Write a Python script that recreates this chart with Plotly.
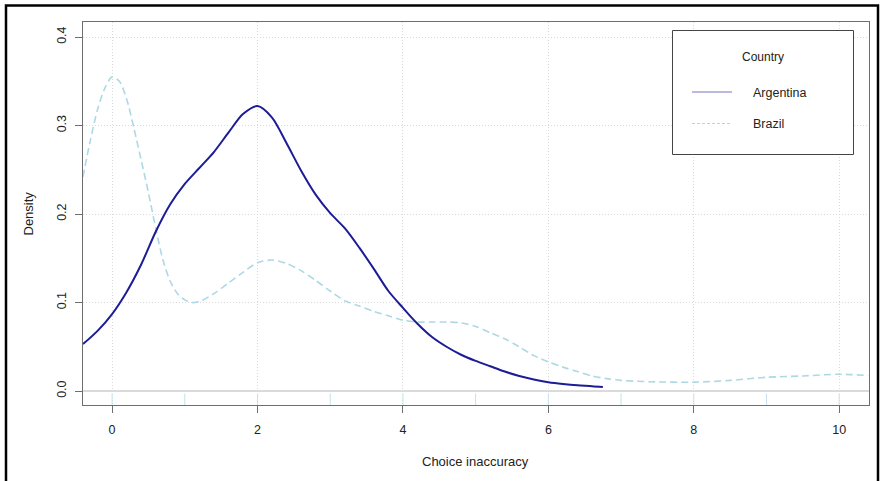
import plotly.graph_objects as go

# ---- data ----
arg_x = [-0.4, -0.2, 0.0, 0.2, 0.4, 0.6, 0.8, 1.0, 1.2, 1.4, 1.6, 1.8, 2.0, 2.2, 2.4, 2.6,
         2.8, 3.0, 3.2, 3.4, 3.6, 3.8, 4.0, 4.2, 4.4, 4.6, 4.8, 5.0, 5.2, 5.4, 5.6, 5.8,
         6.0, 6.2, 6.4, 6.6, 6.75]
arg_y = [0.053, 0.068, 0.087, 0.112, 0.143, 0.180, 0.211, 0.234, 0.252, 0.270, 0.292, 0.313,
         0.322, 0.309, 0.280, 0.249, 0.222, 0.201, 0.184, 0.162, 0.138, 0.113, 0.094, 0.076,
         0.061, 0.050, 0.041, 0.034, 0.028, 0.022, 0.017, 0.013, 0.010, 0.008, 0.0065,
         0.0055, 0.0045]

bra_x = [-0.4, -0.3, -0.2, -0.1, 0.0, 0.1, 0.2, 0.3, 0.4, 0.5, 0.6, 0.7, 0.8, 0.9, 1.0,
         1.1, 1.2, 1.4, 1.6, 1.8, 2.0, 2.2, 2.4, 2.6, 2.8, 3.0, 3.2, 3.4, 3.6, 3.8, 4.0,
         4.2, 4.4, 4.6, 4.8, 5.0, 5.2, 5.4, 5.6, 5.8, 6.0, 6.2, 6.4, 6.6, 6.8, 7.0, 7.4,
         8.0, 8.5, 9.0, 9.5, 10.0, 10.4]
bra_y = [0.242, 0.283, 0.318, 0.342, 0.355, 0.350, 0.330, 0.297, 0.261, 0.224, 0.184,
         0.148, 0.124, 0.110, 0.103, 0.100, 0.101, 0.110, 0.122, 0.134, 0.145, 0.148,
         0.144, 0.136, 0.125, 0.113, 0.102, 0.096, 0.090, 0.085, 0.080, 0.078, 0.078,
         0.078, 0.077, 0.073, 0.066, 0.059, 0.050, 0.040, 0.033, 0.027, 0.022, 0.017,
         0.014, 0.012, 0.0105, 0.010, 0.012, 0.0155, 0.017, 0.019, 0.0175]

rug_x = [0, 1, 2, 3, 4, 5, 6, 7, 8, 9, 10]

x_ticks = [0, 2, 4, 6, 8, 10]
y_ticks = [0.0, 0.1, 0.2, 0.3, 0.4]

series_names = ["Argentina", "Brazil"]
legend_title = "Country"
x_title = "Choice inaccuracy"
y_title = "Density"

# ---- layout constants ----
W, H = 882, 481
L, R, T, B = 83, 13, 22, 76
pw, ph = W - L - R, H - T - B
x_range = [-0.4, 10.41]
y_range = [-0.0158, 0.417]

ARG_COL = "#1c1c96"
BRA_COL = "#add8e6"
RUG_COL = "#c4e2ec"
GRID_COL = "#dadada"
FONT = "Liberation Sans, Arial, sans-serif"


def px_x(p):
    return (p - L) / pw


def px_y(p):
    return (H - B - p) / ph


fig = go.Figure()

# rug
rug_h = 0.03 * (y_range[1] - y_range[0])
rx, ry = [], []
for v in rug_x:
    rx += [v, v, None]
    ry += [y_range[0], y_range[0] + rug_h, None]
fig.add_trace(go.Scatter(x=rx, y=ry, mode="lines", line=dict(color=RUG_COL, width=1),
                         hoverinfo="skip", showlegend=False))

fig.add_trace(go.Scatter(x=bra_x, y=bra_y, mode="lines", name=series_names[1],
                         line=dict(color=BRA_COL, width=1.6, dash="7px,4px",
                                   shape="spline", smoothing=0.8),
                         showlegend=False))
fig.add_trace(go.Scatter(x=arg_x, y=arg_y, mode="lines", name=series_names[0],
                         line=dict(color=ARG_COL, width=2, shape="spline", smoothing=0.8),
                         showlegend=False))

axis_common = dict(
    showline=True, mirror=True, linecolor="#6e6e6e", linewidth=1,
    ticks="outside", ticklen=7, tickcolor="#6e6e6e", tickwidth=1,
    showgrid=True, gridcolor=GRID_COL, griddash="1px,2px", gridwidth=1,
    tickfont=dict(family=FONT, size=12.5, color="#222222"),
)

fig.update_xaxes(range=x_range, tickvals=x_ticks, ticktext=[str(v) for v in x_ticks],
                 zeroline=False, ticklabelstandoff=6, **axis_common)
fig.update_yaxes(range=y_range, tickvals=y_ticks, ticktext=[f"{v:.1f}" for v in y_ticks],
                 tickangle=-90, zeroline=True, zerolinecolor=GRID_COL, zerolinewidth=1.2,
                 ticklabelstandoff=4, **axis_common)

shapes = []
annotations = []

# outer frame
shapes.append(dict(type="rect", xref="paper", yref="paper",
                   x0=px_x(6), x1=px_x(878), y0=px_y(488), y1=px_y(5.5),
                   line=dict(color="black", width=2.5), fillcolor="rgba(0,0,0,0)",
                   layer="above"))

# legend box
shapes.append(dict(type="rect", xref="paper", yref="paper",
                   x0=px_x(672.5), x1=px_x(853.5), y0=px_y(154.5), y1=px_y(30.5),
                   line=dict(color="#444444", width=1), fillcolor="white", layer="above"))
shapes.append(dict(type="line", xref="paper", yref="paper",
                   x0=px_x(692), x1=px_x(732), y0=px_y(92), y1=px_y(92),
                   line=dict(color="#7777c4", width=1.2), layer="above"))
shapes.append(dict(type="line", xref="paper", yref="paper",
                   x0=px_x(692), x1=px_x(732), y0=px_y(123.5), y1=px_y(123.5),
                   line=dict(color=BRA_COL, width=1, dash="3px,2px"), layer="above"))

annotations.append(dict(text=legend_title, xref="paper", yref="paper",
                        x=px_x(762.7), y=px_y(57.5), xanchor="center", yanchor="middle",
                        showarrow=False, font=dict(family=FONT, size=12, color="#222222")))
annotations.append(dict(text=series_names[0], xref="paper", yref="paper",
                        x=px_x(751), y=px_y(93), xanchor="left", yanchor="middle",
                        showarrow=False, font=dict(family=FONT, size=12.5, color="#222222")))
annotations.append(dict(text=series_names[1], xref="paper", yref="paper",
                        x=px_x(751), y=px_y(124.5), xanchor="left", yanchor="middle",
                        showarrow=False, font=dict(family=FONT, size=12.5, color="#222222")))

# axis titles
annotations.append(dict(text=x_title, xref="paper", yref="paper",
                        x=px_x(475), y=px_y(461), xanchor="center", yanchor="middle",
                        showarrow=False, font=dict(family=FONT, size=13, color="#222222")))
annotations.append(dict(text=y_title, xref="paper", yref="paper",
                        x=px_x(28), y=px_y(213.5), xanchor="center", yanchor="middle",
                        textangle=-90, showarrow=False,
                        font=dict(family=FONT, size=13, color="#222222")))

fig.update_layout(
    width=W, height=H, autosize=False,
    margin=dict(l=L, r=R, t=T, b=B, pad=0),
    paper_bgcolor="white", plot_bgcolor="white",
    showlegend=False, hovermode=False,
    shapes=shapes, annotations=annotations,
    font=dict(family=FONT, size=12, color="#222222"),
)

# remove the default 8px page margin so the figure sits at the window origin
fig.write_html("out.html",
               config={"displayModeBar": False, "staticPlot": True},
               post_script="document.body.style.margin='0';document.body.style.overflow='hidden';")
